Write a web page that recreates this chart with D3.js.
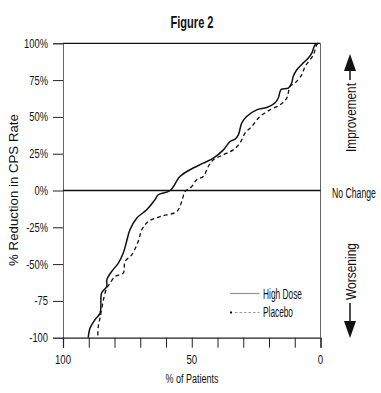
<!DOCTYPE html>
<html><head><meta charset="utf-8">
<script src="https://cdn.jsdelivr.net/npm/d3@7"></script>
<style>body{margin:0;background:#fff}svg{display:block}text{font-family:"Liberation Sans",Arial,sans-serif;fill:#111}</style>
</head><body><svg id="c" width="381" height="393"></svg>
<script>
const seriesNames = ["High Dose", "Placebo"];
const highDoseX = [0.8,2.1,3.4,4.7,6.7,9.2,10.6,11.2,12.5,15.1,15.7,16.4,17.7,20.9,24.8,28.7,30.6,31.9,33.2,35.1,37.7,41.6,45.5,50.7,54.6,58.4,63.0,64.3,67.5,71.4,74.0,75.3,76.6,78.5,81.1,83.0,83.0,85.0,85.6,87.6,89.5,90.2];
const highDoseY = [100,99,93.3,90,86.7,82,77.4,73,69.6,68.9,67.3,62.8,59.4,56.4,54.8,50.3,45.8,37.8,34.9,33.3,27.6,22,18.6,14.1,9.5,0,-2.9,-6.3,-13.1,-18.8,-26.7,-34.6,-42.5,-49.3,-55,-60.7,-65.2,-69.7,-83.3,-87.8,-93.5,-100];
const placeboX = [1.0,1.5,2.8,6.0,7.3,9.9,11.8,13.1,15.7,19.6,23.5,26.7,29.3,31.3,33.9,37.7,41.6,43.6,45.5,48.1,50.0,52.6,53.9,55.8,62.3,66.9,69.4,70.8,73.3,75.9,76.6,79.8,81.7,83.0,84.3,85.6,86.3,86.5];
const placeboY = [100,98.8,92.1,84.2,78.6,73,70.7,62.8,58.2,54.8,50.3,43.5,39,32.2,27.6,24.3,20.9,16.3,9.5,7.3,2.7,-0.7,-7.5,-14.3,-17.7,-21.1,-26.7,-34.6,-43.7,-48.2,-56.1,-58.4,-62.9,-66.3,-74.3,-86.5,-92.4,-100];
const yTicks = [100,75,50,25,0,-25,-50,-75,-100];
const yTickLabels = ["100%","75%","50%","25%","0%","-25%","-50%","-75","-100"];
const xTicks = [100,90,80,70,60,50,40,30,20,10,0];
const xTickLabels = {100:"100",50:"50",0:"0"};

const svg = d3.select("#c");
const L = 63, R = 320.5, T = 43.3, B = 337.7;
const x = d3.scaleLinear().domain([100,0]).range([L,R]);
const y = d3.scaleLinear().domain([-100,100]).range([B,T]);

// place condensed text: anchor point (px,py), rotation, horizontal squeeze factor
function label(txt, px, py, opts) {
  const o = Object.assign({size:12, anchor:"start", rot:0, sx:0.72, weight:"normal"}, opts||{});
  const t = svg.append("text").attr("text-anchor", o.anchor)
    .style("font-size", o.size+"px").style("font-weight", o.weight).text(txt);
  let sx = o.sx;
  if (o.width) sx = o.width / t.node().getComputedTextLength();
  t.attr("transform", `translate(${px},${py}) rotate(${o.rot}) scale(${sx},1)`);
  return t;
}

label("Figure 2", 192, 27.5, {size:16, anchor:"middle", weight:"bold", width:43});

// Y axis
const ya = svg.append("g").attr("transform",`translate(${L},0)`)
  .call(d3.axisLeft(y).tickValues(yTicks).tickSize(10).tickFormat(""));
ya.select(".domain").attr("stroke","#666").attr("stroke-width",1);
ya.selectAll(".tick line").attr("stroke","#222");
yTicks.forEach((v,i)=> label(yTickLabels[i], 48, y(v)+4.4, {size:12, anchor:"end", sx:0.78}));

// X axis
const xa = svg.append("g").attr("transform",`translate(0,${B})`)
  .call(d3.axisBottom(x).tickValues(xTicks).tickSize(10).tickFormat(""));
xa.select(".domain").attr("stroke","#222").attr("stroke-width",1.2);
xa.selectAll(".tick line").attr("stroke","#222");
xTicks.filter(d=>xTickLabels[d]).forEach(d=> label(xTickLabels[d], x(d), 364, {size:12, anchor:"middle", sx:0.8}));

// frame
svg.append("line").attr("x1",L).attr("x2",R).attr("y1",T).attr("y2",T).attr("stroke","#111").attr("stroke-width",1.2);
svg.append("line").attr("x1",R).attr("x2",R).attr("y1",T).attr("y2",B).attr("stroke","#666").attr("stroke-width",1);
svg.append("line").attr("x1",L).attr("x2",R).attr("y1",y(0)).attr("y2",y(0)).attr("stroke","#111").attr("stroke-width",1.5);

const line = d3.line().x(d=>x(d[0])).y(d=>y(d[1])).curve(d3.curveCatmullRom.alpha(0.5));
svg.append("path").datum(highDoseX.map((v,i)=>[v,highDoseY[i]]))
  .attr("d",line).attr("fill","none").attr("stroke","#111").attr("stroke-width",1.5);
svg.append("path").datum(placeboX.map((v,i)=>[v,placeboY[i]]))
  .attr("d",line).attr("fill","none").attr("stroke","#111").attr("stroke-width",1.3).attr("stroke-dasharray","4,3");

// axis titles
label("% Reduction in CPS Rate", 18, 190, {size:12.5, anchor:"middle", rot:-90, width:152});
label("% of Patients", 192, 383, {size:13.5, anchor:"middle", width:53});

// right annotations
label("No Change", 332, 197.5, {size:14, width:44});
label("Improvement", 355.5, 117.5, {size:14, anchor:"middle", rot:-90, width:69});
label("Worsening", 355.5, 271.5, {size:14, anchor:"middle", rot:-90, width:57});
svg.append("line").attr("x1",350).attr("x2",350).attr("y1",70).attr("y2",80).attr("stroke","#111").attr("stroke-width",1.5);
svg.append("path").attr("d","M350,54 L344,71 L356,71 Z").attr("fill","#111");
svg.append("line").attr("x1",350).attr("x2",350).attr("y1",303).attr("y2",322).attr("stroke","#111").attr("stroke-width",1.5);
svg.append("path").attr("d","M350,338 L344,321 L356,321 Z").attr("fill","#111");

// legend
svg.append("line").attr("x1",230).attr("x2",259.5).attr("y1",293.5).attr("y2",293.5).attr("stroke","#999").attr("stroke-width",1.3);
label(seriesNames[0], 263, 298.5, {size:14, width:39});
svg.append("line").attr("x1",235).attr("x2",259.5).attr("y1",312.5).attr("y2",312.5).attr("stroke","#999").attr("stroke-width",1.2).attr("stroke-dasharray","2.5,2");
svg.append("rect").attr("x",230).attr("y",311.5).attr("width",2).attr("height",2).attr("fill","#111");
label(seriesNames[1], 263, 316.5, {size:14, width:30});
</script></body></html>
